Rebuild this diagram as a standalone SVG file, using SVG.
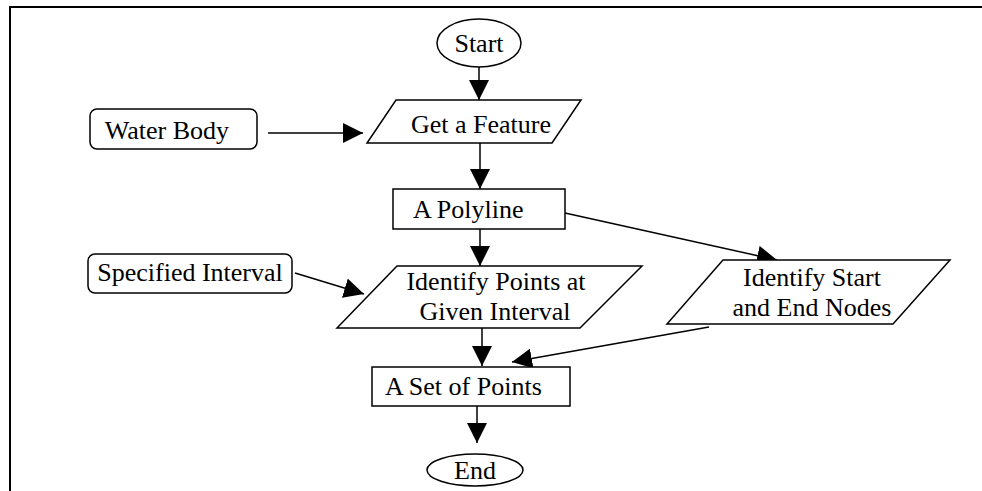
<svg xmlns="http://www.w3.org/2000/svg" width="982" height="491" viewBox="0 0 982 491">
<defs>
<style>
.s{fill:#fff;stroke:#000;stroke-width:1.5}
.t{font-family:"Liberation Serif","Times New Roman",serif;font-size:26px;fill:#000}
.c{stroke:#000;stroke-width:1.5;fill:none}
</style>
<marker id="ah" viewBox="0 0 20 20" refX="20" refY="10" markerWidth="20" markerHeight="20" markerUnits="userSpaceOnUse" orient="auto">
<path d="M0,0 L20,10 L0,20 z" fill="#000"/>
</marker>
</defs>
<rect width="982" height="491" fill="#fff"/>
<path d="M10,491 V7 H982" fill="none" stroke="#000" stroke-width="2"/>
<g id="connectors">
<line class="c" x1="479" y1="67" x2="479" y2="100" marker-end="url(#ah)"/>
<line class="c" x1="268" y1="133" x2="363" y2="133" marker-end="url(#ah)"/>
<line class="c" x1="480" y1="143" x2="480" y2="189" marker-end="url(#ah)"/>
<line class="c" x1="480" y1="229" x2="480" y2="266" marker-end="url(#ah)"/>
<line class="c" x1="565" y1="213" x2="777" y2="260" marker-end="url(#ah)"/>
<line class="c" x1="295" y1="273" x2="364" y2="294" marker-end="url(#ah)"/>
<line class="c" x1="482" y1="328" x2="482" y2="366" marker-end="url(#ah)"/>
<line class="c" x1="709" y1="327" x2="512" y2="362" marker-end="url(#ah)"/>
<line class="c" x1="477" y1="406" x2="477" y2="443" marker-end="url(#ah)"/>
</g>
<g id="start">
<ellipse class="s" cx="479" cy="43" rx="42" ry="24"/>
<text class="t" x="479" y="52" text-anchor="middle">Start</text>
</g>
<g id="water-body">
<rect class="s" x="90" y="109" width="167" height="40" rx="7"/>
<text class="t" x="167" y="139" text-anchor="middle">Water Body</text>
</g>
<g id="get-feature">
<polygon class="s" points="396,100 581,100 552,143 367,143"/>
<text class="t" x="481" y="133" text-anchor="middle">Get a Feature</text>
</g>
<g id="polyline">
<rect class="s" x="393" y="189" width="172" height="40"/>
<text class="t" x="413" y="218">A Polyline</text>
</g>
<g id="specified-interval">
<rect class="s" x="88" y="254" width="204" height="39" rx="7"/>
<text class="t" x="190" y="281" text-anchor="middle">Specified Interval</text>
</g>
<g id="identify-points">
<polygon class="s" points="397,266 642,266 580,328 337,328"/>
<text class="t" text-anchor="middle"><tspan x="496" y="290">Identify Points at</tspan><tspan x="495" y="320">Given Interval</tspan></text>
</g>
<g id="identify-start-end">
<polygon class="s" points="723,260 950,260 893,324 667,324"/>
<text class="t" text-anchor="middle"><tspan x="812" y="286">Identify Start</tspan><tspan x="812" y="316">and End Nodes</tspan></text>
</g>
<g id="set-of-points">
<rect class="s" x="372" y="367" width="198" height="39"/>
<text class="t" x="385" y="395">A Set of Points</text>
</g>
<g id="end">
<ellipse class="s" cx="475" cy="470" rx="48" ry="16"/>
<text class="t" x="475" y="479" text-anchor="middle">End</text>
</g>
</svg>
